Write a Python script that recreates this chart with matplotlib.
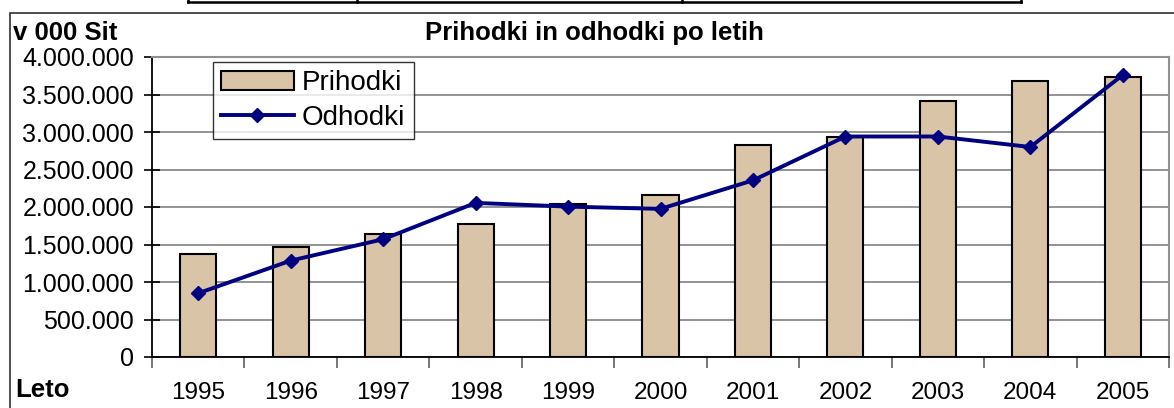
import matplotlib.pyplot as plt
import numpy as np
from matplotlib.patches import Rectangle
from matplotlib.lines import Line2D

plt.rcParams['font.family'] = ['Liberation Sans', 'DejaVu Sans']

years = ['1995', '1996', '1997', '1998', '1999', '2000', '2001', '2002', '2003', '2004', '2005']
prihodki = [1370000, 1465000, 1640000, 1780000, 2035000, 2160000, 2830000, 2930000, 3420000, 3680000, 3730000]
odhodki = [850000, 1285000, 1570000, 2055000, 2005000, 1975000, 2355000, 2940000, 2940000, 2800000, 3760000]
yticks = [0, 500000, 1000000, 1500000, 2000000, 2500000, 3000000, 3500000, 4000000]


def fmt(v):
    # slovenian thousands separator
    return f"{v:,}".replace(',', '.')


W, H = 1174, 408
fig = plt.figure(figsize=(W / 100, H / 100), dpi=100)

# plot area in pixels: left 152, right 1169, top 57, bottom 357
ax = fig.add_axes([152 / W, 1 - 357 / H, (1169 - 152) / W, (357 - 57) / H])

x = np.arange(len(years))
bars = ax.bar(x, prihodki, width=0.39, color='#dac4a8', edgecolor='black', linewidth=1.5,
              label='Prihodki', zorder=2)
line, = ax.plot(x, odhodki, color='#000080', linewidth=2.8, marker='D', markersize=7.5,
                label='Odhodki', zorder=3)

ax.set_xlim(-0.5, len(years) - 0.5)
ax.set_ylim(0, 4000000)
ax.set_yticks(yticks)
ax.set_yticklabels([fmt(v) for v in yticks], fontsize=18)
ax.yaxis.grid(True, color='#808080', linewidth=1.2, zorder=0)
ax.set_axisbelow(True)

# category boundary ticks below the axis
ax.set_xticks(np.arange(len(years) + 1) - 0.5)
ax.set_xticklabels([])
ax.set_xticks(x, minor=True)
ax.set_xticklabels(years, minor=True, fontsize=17.5)
ax.tick_params(axis='x', which='major', length=8, direction='out', color='#606060', width=1.2)
ax.tick_params(axis='x', which='minor', length=0, pad=18)
ax.tick_params(axis='y', length=12, direction='inout', width=1.2, pad=7)

for s in ['top', 'right']:
    ax.spines[s].set_color('#909090')
    ax.spines[s].set_linewidth(1.5)
for s in ['left', 'bottom']:
    ax.spines[s].set_color('black')
    ax.spines[s].set_linewidth(1.3)

leg = ax.legend([bars, line], ['Prihodki', 'Odhodki'], loc='upper left',
                bbox_to_anchor=((213 - 152) / (1169 - 152), 1 - (62 - 57) / 300),
                fontsize=20, frameon=True, fancybox=False, edgecolor='black',
                borderpad=0.3, labelspacing=0.3, handlelength=2.6, handletextpad=0.3,
                borderaxespad=0)
leg.get_frame().set_linewidth(1.0)

fig.text(594 / W, 1 - 33 / H, 'Prihodki in odhodki po letih', ha='center', va='center',
         fontsize=18.5, fontweight='bold')
fig.text(13 / W, 1 - 33 / H, 'v 000 Sit', ha='left', va='center', fontsize=18.5, fontweight='bold')
fig.text(15 / W, 1 - 390 / H, 'Leto', ha='left', va='center', fontsize=18.5, fontweight='bold')

# outer chart border
fig.add_artist(Rectangle((10 / W, -0.05), 1.2, 1 - 13 / H + 0.05, transform=fig.transFigure,
                         fill=False, edgecolor='#303030', linewidth=1.2))

# cut-off table row at the top
ty = 1 - 2 / H
fig.add_artist(Line2D([188 / W, 1021 / W], [ty, ty], transform=fig.transFigure,
                      color='black', linewidth=1.8))
for px in [188, 357, 682, 1021]:
    fig.add_artist(Line2D([px / W, px / W], [ty, 1.0], transform=fig.transFigure,
                          color='black', linewidth=1.8))

fig.savefig('out.png', dpi=100)
